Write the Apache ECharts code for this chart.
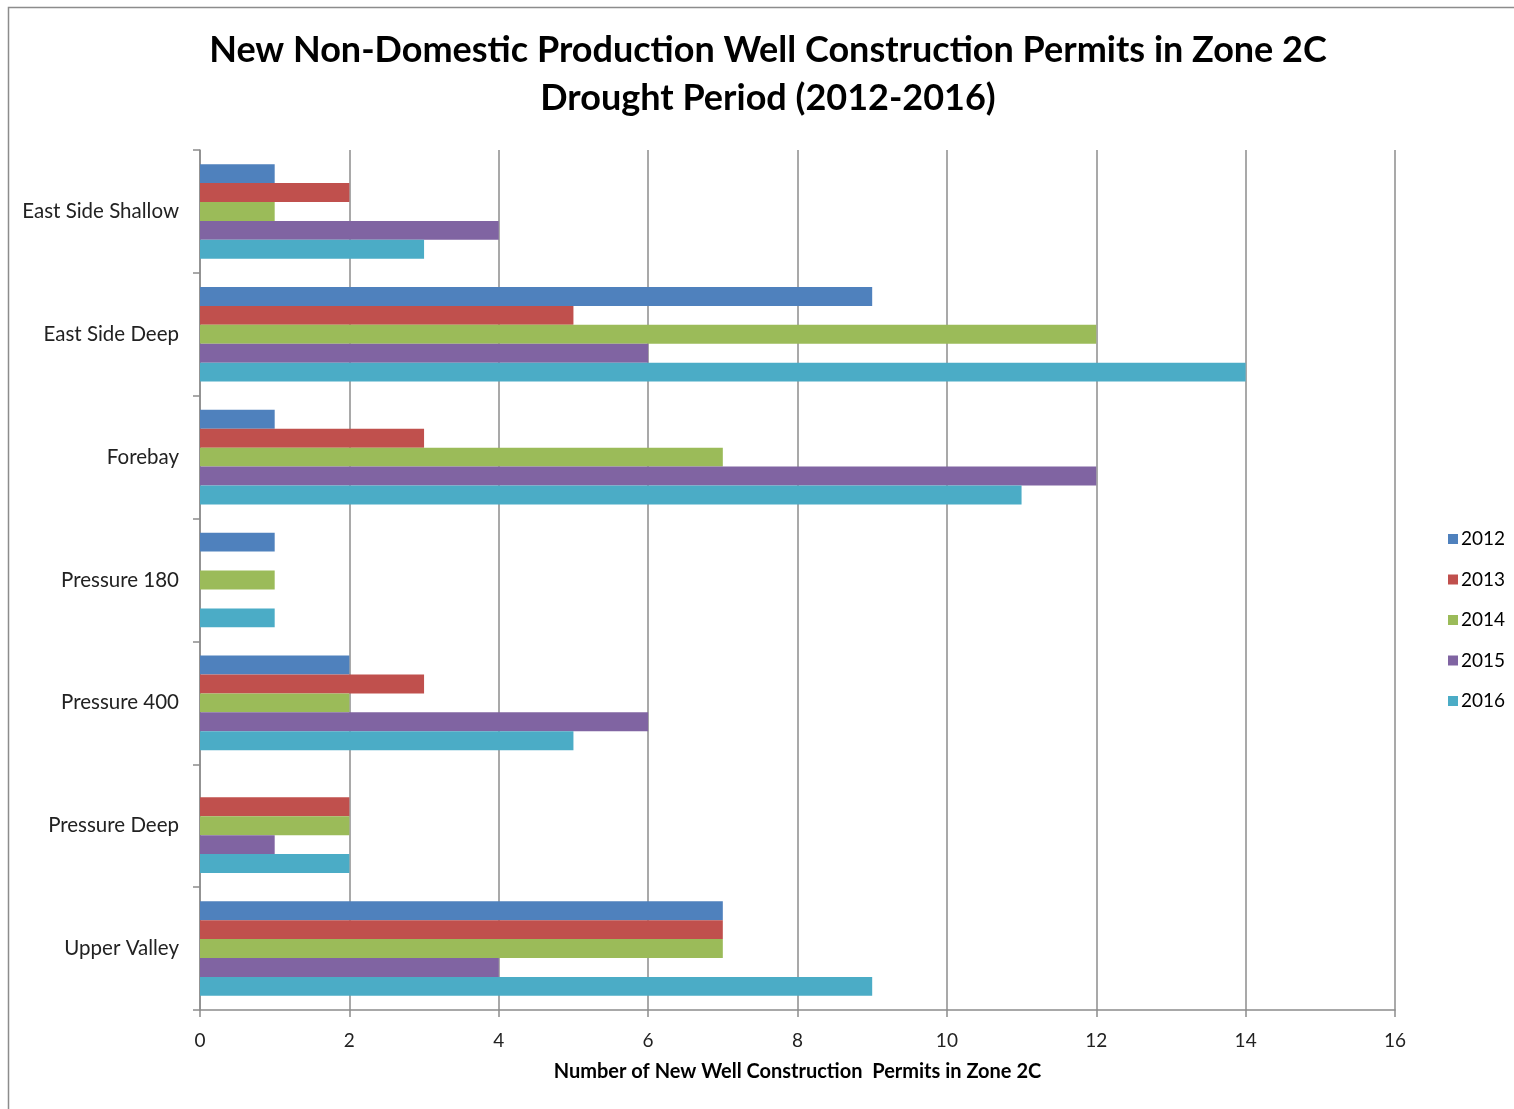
<!DOCTYPE html>
<html>
<head>
<meta charset="utf-8">
<script src="https://cdn.jsdelivr.net/npm/echarts@6/dist/echarts.min.js"></script>
<style>
  html, body { margin: 0; padding: 0; background: #fff; }
  #permits { width: 1514px; height: 1109px; }
</style>
</head>
<body>
<div id="permits"></div>
<script>
// areas (top to bottom)
const areas = ['East Side Shallow', 'East Side Deep', 'Forebay', 'Pressure 180', 'Pressure 400', 'Pressure Deep', 'Upper Valley'];
const years = ['2012', '2013', '2014', '2015', '2016'];
const colors = ['#4F81BD', '#C0504D', '#9BBB59', '#8064A2', '#4BACC6'];

// permits per area, one array per year
const y2012 = [1, 9, 1, 1, 2, 0, 7];
const y2013 = [2, 5, 3, 0, 3, 2, 7];
const y2014 = [1, 12, 7, 1, 2, 2, 7];
const y2015 = [4, 6, 12, 0, 6, 1, 4];
const y2016 = [3, 14, 11, 1, 5, 2, 9];
const perYear = [y2012, y2013, y2014, y2015, y2016];

const font = 'Lato, "Open Sans", sans-serif';

var chartDom = document.getElementById('permits');
var myChart = echarts.init(chartDom);
var option;

option = {
  backgroundColor: '#fff',
  animation: false,
  graphic: [{
    type: 'rect',
    shape: { x: 8.5, y: 7.5, width: 1600, height: 1200 },
    style: { fill: 'none', stroke: '#8c8c8c', lineWidth: 1.5 },
    silent: true
  }],
  title: {
    text: 'New Non-Domestic Production Well Construction Permits in Zone 2C\nDrought Period (2012-2016)',
    left: 768,
    top: 26,
    padding: 0,
    textAlign: 'center',
    textStyle: {
      fontFamily: font,
      fontSize: 36,
      fontWeight: 'bold',
      color: '#000',
      lineHeight: 48
    }
  },
  legend: {
    data: years,
    orient: 'vertical',
    left: 1443,
    top: 524,
    itemWidth: 10,
    itemHeight: 10,
    itemGap: 20.5,
    icon: 'rect',
    textStyle: { fontFamily: font, fontSize: 19, color: '#000', lineHeight: 20, padding: [0, 0, 0, -2] }
  },
  grid: { left: 200, right: 119, top: 150, bottom: 99, containLabel: false },
  xAxis: {
    type: 'value',
    min: 0,
    max: 16,
    interval: 2,
    name: 'Number of New Well Construction  Permits in Zone 2C',
    nameLocation: 'middle',
    nameGap: 52,
    nameTextStyle: { fontFamily: font, fontSize: 20, fontWeight: 'bold', color: '#000' },
    axisLine: { show: true, lineStyle: { color: '#8c8c8c', width: 1.5 } },
    axisTick: { show: true, length: 7, lineStyle: { color: '#8c8c8c', width: 1.5 } },
    axisLabel: { margin: 21, fontFamily: font, fontSize: 19, color: '#222' },
    splitLine: { show: true, lineStyle: { color: '#8c8c8c', width: 1.5 } }
  },
  yAxis: {
    type: 'category',
    data: areas,
    inverse: true,
    axisLine: { show: true, lineStyle: { color: '#8c8c8c', width: 1.5 } },
    axisTick: { show: true, length: 7, lineStyle: { color: '#8c8c8c', width: 1.5 } },
    axisLabel: { margin: 21, fontFamily: font, fontSize: 20.5, color: '#222' },
    splitLine: { show: false }
  },
  series: years.map(function (yr, i) {
    return {
      name: yr,
      type: 'bar',
      data: perYear[i],
      barGap: '0%',
      barCategoryGap: '23%',
      itemStyle: { color: colors[i] }
    };
  })
};

option && myChart.setOption(option);
</script>
</body>
</html>
